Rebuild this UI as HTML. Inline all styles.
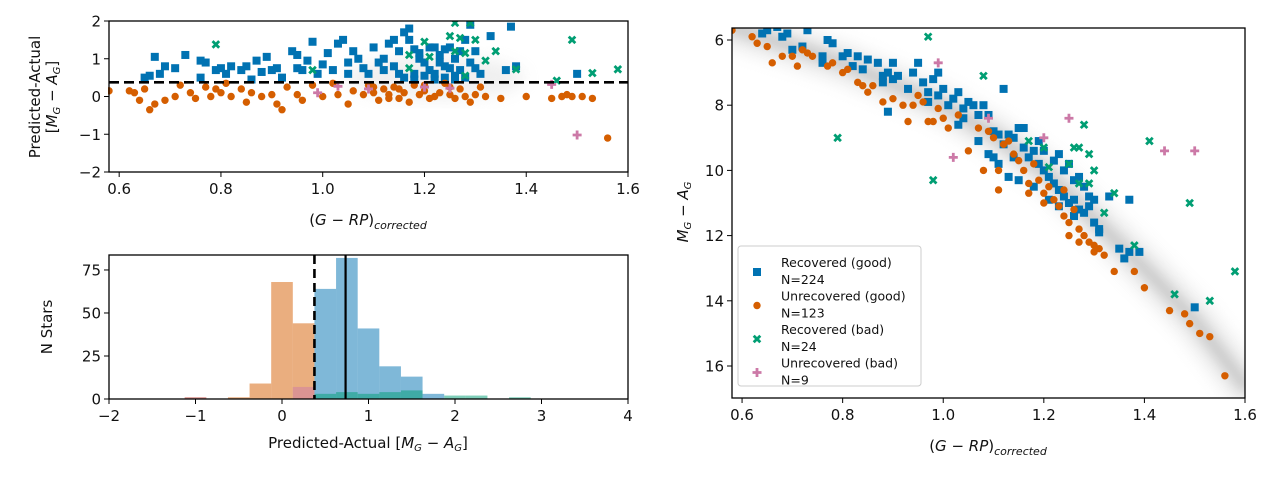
<!DOCTYPE html>
<html><head><meta charset="utf-8">
<style>
html,body{margin:0;padding:0;background:#fff;}
svg{display:block;font-family:"DejaVu Sans","Liberation Sans",sans-serif;}
text{fill:#111;}
</style></head>
<body>
<svg id="fig" width="1280" height="478" viewBox="0 0 1280 478">
<defs>
<filter id="blur1" x="-20%" y="-50%" width="140%" height="200%"><feGaussianBlur stdDeviation="6"/></filter>
<filter id="blur2" x="-20%" y="-20%" width="140%" height="140%"><feGaussianBlur stdDeviation="8"/></filter>
<clipPath id="c1"><rect x="108" y="21" width="520" height="151"/></clipPath>
<clipPath id="c3"><rect x="732" y="28" width="513" height="370"/></clipPath>
</defs>
<g id="p1"></g>
<g id="p2"></g>
<g id="p3"></g>
</svg>
<script>
// ---------- data ----------
const blueRes = [[0.65,0.5],[0.66,0.55],[0.67,1.05],[0.68,0.6],[0.69,0.8],[0.71,0.75],[0.73,1.1],[0.76,0.95],[0.77,0.9],[0.76,0.5],[0.79,0.7],[0.8,0.75],[0.81,0.6],[0.82,0.8],[0.84,0.7],[0.85,0.8],[0.86,0.45],[0.87,0.95],[0.88,0.65],[0.89,1.05],[0.9,0.7],[0.91,0.75],[0.92,0.5],[0.94,1.2],[0.95,1.1],[0.95,0.75],[0.96,0.7],[0.97,0.95],[0.98,1.45],[0.99,0.6],[1.0,0.85],[1.01,1.15],[1.02,0.7],[1.03,1.4],[1.04,1.5],[1.05,0.9],[1.05,0.6],[1.06,1.2],[1.07,1.0],[1.08,0.75],[1.09,0.6],[1.10,1.3],[1.11,0.9],[1.12,0.7],[1.13,1.4],[1.14,1.5],[1.15,1.2],[1.16,1.7],[1.17,1.8],[1.17,1.5],[1.18,1.25],[1.19,1.0],[1.2,0.9],[1.21,0.7],[1.22,1.3],[1.23,1.1],[1.24,0.8],[1.25,1.3],[1.26,1.0],[1.27,0.7],[1.28,1.5],[1.29,1.9],[1.3,1.2],[1.31,0.6],[1.33,1.6],[1.36,0.7],[1.37,1.85],[1.38,0.8],[1.5,0.6],[1.16,0.5],[1.18,0.6],[1.2,0.55],[1.22,0.6],[1.24,0.5],[1.26,0.55],[1.28,0.5],[1.14,0.8],[1.15,0.6],[1.23,0.9],[1.25,0.75],[1.27,1.2],[1.19,1.15],[1.21,1.3],[1.12,1.0],[1.24,1.25],[1.29,0.9],[1.3,0.75],[1.18,0.45],[1.26,0.45],[1.22,0.45]];
const orangeRes = [[0.58,0.15],[0.62,0.15],[0.63,0.1],[0.64,-0.1],[0.65,0.2],[0.66,-0.35],[0.67,-0.2],[0.69,-0.1],[0.71,0.0],[0.72,0.3],[0.74,0.1],[0.75,-0.05],[0.77,0.25],[0.78,0.0],[0.79,0.2],[0.8,0.1],[0.81,0.35],[0.82,0.0],[0.84,0.2],[0.85,-0.15],[0.86,0.1],[0.88,0.0],[0.9,0.05],[0.91,-0.2],[0.92,-0.35],[0.93,0.25],[0.95,0.05],[0.96,-0.1],[0.98,0.3],[1.0,0.0],[1.02,0.35],[1.03,0.05],[1.05,-0.2],[1.06,0.15],[1.08,0.05],[1.09,0.3],[1.1,0.1],[1.11,-0.1],[1.12,0.2],[1.13,0.05],[1.14,0.25],[1.15,-0.05],[1.16,0.1],[1.17,-0.15],[1.18,0.3],[1.19,0.05],[1.2,0.15],[1.21,-0.05],[1.22,0.0],[1.23,0.1],[1.24,0.35],[1.25,0.05],[1.26,-0.05],[1.27,0.2],[1.28,0.0],[1.29,-0.15],[1.3,0.05],[1.31,0.25],[1.32,0.0],[1.35,-0.05],[1.4,0.0],[1.45,-0.05],[1.47,0.0],[1.48,0.05],[1.49,0.0],[1.51,0.0],[1.53,-0.05],[1.56,-1.1],[1.2,0.3],[1.15,0.2],[1.1,0.25],[1.25,0.25],[1.13,-0.05]];
const greenRes = [[0.79,1.38],[0.98,0.7],[1.17,1.1],[1.17,0.75],[1.2,1.45],[1.21,1.05],[1.26,1.95],[1.25,1.6],[1.27,1.55],[1.26,1.2],[1.28,1.15],[1.29,1.95],[1.3,1.5],[1.28,0.55],[1.32,0.95],[1.34,1.2],[1.38,0.72],[1.46,0.42],[1.49,1.5],[1.53,0.62],[1.58,0.72]];
const pinkRes = [[0.99,0.1],[1.03,0.27],[1.09,0.2],[1.2,0.25],[1.25,0.22],[1.45,0.32],[1.5,-1.02]];
const resBand = [[0.58,0],[0.8,0],[1.0,0],[1.2,0],[1.4,0],[1.55,0]];

const histEdges = [-1.125,-0.875,-0.625,-0.375,-0.125,0.125,0.375,0.625,0.875,1.125,1.375,1.625,1.875,2.125,2.375,2.625,2.875];
const histOrange = [1,0,1,9,68,44,0,0,0,0,0,0,0,0,0,0];
const histBlue   = [0,0,0,0,0,0,64,82,41,19,13,3,0,0,0,0];
const histGreen  = [0,0,0,0,0,0,3,4,3,4,5,0,2,2,0,1];
const histPink   = [1,0,0,0,0,7,0,0,0,0,0,0,0,0,0,0];
const cutValue = 0.375;
const medianValue = 0.735;
const histTicksX = [-2,-1,0,1,2,3,4];
const histTicksY = [0,25,50,75];

const blueCmd = [[0.64,5.8],[0.65,5.7],[0.67,5.6],[0.68,5.9],[0.69,5.8],[0.7,6.3],[0.73,5.7],[0.72,6.2],[0.76,6.5],[0.77,6.0],[0.78,6.1],[0.76,6.7],[0.8,6.5],[0.81,6.4],[0.82,6.8],[0.83,6.5],[0.84,6.9],[0.85,6.6],[0.87,6.7],[0.88,7.1],[0.88,7.3],[0.89,7.0],[0.9,6.7],[0.9,7.2],[0.91,7.1],[0.93,7.5],[0.94,7.0],[0.95,6.7],[0.96,7.3],[0.97,7.6],[0.97,7.9],[0.98,7.2],[0.99,7.7],[0.99,7.0],[1.0,7.5],[1.01,8.0],[1.02,7.8],[1.03,7.6],[1.04,8.1],[1.05,7.9],[1.06,8.0],[1.07,8.3],[1.08,8.0],[1.09,8.3],[1.04,8.4],[1.03,8.6],[1.1,8.8],[1.11,8.9],[1.12,9.2],[1.13,8.9],[1.14,9.0],[1.15,8.7],[1.16,8.7],[1.12,7.5],[0.89,8.2],[1.07,9.1],[1.09,9.5],[1.1,9.6],[1.11,9.8],[1.13,10.2],[1.15,10.3],[1.16,9.3],[1.17,9.6],[1.18,9.4],[1.19,9.8],[1.2,10.0],[1.21,10.2],[1.22,10.4],[1.23,10.6],[1.24,10.8],[1.25,11.0],[1.26,10.9],[1.27,11.2],[1.28,11.3],[1.29,11.1],[1.3,11.6],[1.31,11.8],[1.2,9.4],[1.22,9.7],[1.24,10.0],[1.26,10.3],[1.28,10.5],[1.23,9.5],[1.25,9.8],[1.27,10.2],[1.29,10.8],[1.21,10.9],[1.23,11.1],[1.31,11.9],[1.33,10.8],[1.35,12.4],[1.36,12.7],[1.37,12.5],[1.37,10.9],[1.39,12.5],[1.5,14.2],[1.19,9.1],[1.18,10.5],[1.14,9.6],[1.26,11.4],[1.3,10.9]];
const orangeCmd = [[0.58,5.7],[0.62,5.9],[0.63,6.1],[0.65,6.2],[0.66,6.7],[0.68,6.5],[0.7,6.5],[0.71,6.8],[0.72,6.3],[0.73,6.4],[0.74,6.5],[0.77,6.8],[0.78,6.7],[0.8,7.0],[0.81,6.9],[0.83,7.3],[0.84,7.4],[0.85,7.6],[0.86,7.4],[0.88,7.9],[0.9,7.8],[0.92,8.0],[0.93,8.5],[0.94,8.0],[0.95,7.7],[0.96,7.9],[0.98,8.5],[0.99,8.1],[1.0,8.4],[1.01,8.7],[1.03,8.3],[1.05,9.4],[1.07,8.7],[1.09,8.8],[1.1,9.0],[1.12,9.2],[1.13,9.1],[1.14,9.5],[1.15,9.7],[1.16,10.0],[1.17,10.4],[1.18,9.8],[1.19,10.3],[1.2,10.7],[1.21,10.5],[1.22,10.9],[1.23,11.1],[1.24,11.4],[1.25,11.6],[1.26,11.2],[1.27,11.8],[1.28,12.0],[1.29,12.2],[1.3,12.3],[1.31,12.4],[1.32,12.6],[1.34,13.1],[1.38,13.1],[1.4,13.6],[1.45,14.3],[1.48,14.4],[1.49,14.7],[1.51,15.0],[1.53,15.1],[1.56,16.3],[1.11,10.6],[1.11,10.0],[1.17,10.7],[1.2,11.0],[1.25,12.0],[1.08,10.0],[0.97,8.5],[1.27,12.2],[1.3,12.5],[1.24,10.6]];
const greenCmd = [[0.97,5.9],[1.08,7.1],[0.79,9.0],[0.98,10.3],[1.17,9.1],[1.2,9.3],[1.21,9.9],[1.25,9.8],[1.26,9.3],[1.27,9.3],[1.28,8.6],[1.27,10.4],[1.29,10.4],[1.29,9.5],[1.3,10.0],[1.32,11.3],[1.34,10.7],[1.38,12.3],[1.41,9.1],[1.46,13.8],[1.49,11.0],[1.53,14.0],[1.58,13.1]];
const pinkCmd = [[0.99,6.7],[1.09,8.4],[1.02,9.6],[1.2,9.0],[1.25,8.4],[1.44,9.4],[1.5,9.4]];
const cmdBand = [[0.58,5.6],[0.8,6.7],[1.0,8.0],[1.1,8.9],[1.2,10.0],[1.3,11.5],[1.4,13.0],[1.5,14.6],[1.6,16.6]];

const colTicks = [0.6,0.8,1.0,1.2,1.4,1.6];
const resTicksY = [-2,-1,0,1,2];
const cmdTicksY = [6,8,10,12,14,16];

// ---------- helpers ----------
const NS="http://www.w3.org/2000/svg";
const BLUE="#0072B2",ORANGE="#D55E00",GREEN="#009E73",PINK="#CC79A7";
function el(tag,attrs,parent){const e=document.createElementNS(NS,tag);for(const k in attrs)e.setAttribute(k,attrs[k]);parent.appendChild(e);return e;}
function lin(d0,d1,r0,r1){return v=>r0+(v-d0)*(r1-r0)/(d1-d0);}
function marker(g,kind,px,py,color){
  let m;
  if(kind==='s'){m=el('rect',{x:px-4,y:py-4,width:8,height:8,fill:color},g);}
  else if(kind==='o'){m=el('circle',{cx:px,cy:py,r:3.7,fill:color},g);}
  else if(kind==='x'){m=el('path',{d:`M${px-3.3},${py-3.3}L${px+3.3},${py+3.3}M${px-3.3},${py+3.3}L${px+3.3},${py-3.3}`,stroke:color,'stroke-width':2.8,fill:'none'},g);}
  else {m=el('path',{d:`M${px-4.5},${py}L${px+4.5},${py}M${px},${py-4.5}L${px},${py+4.5}`,stroke:color,'stroke-width':2.8,fill:'none'},g);}
  return m;
}
function scatter(g,data,kind,color,sx,sy,name){
  const grp=el('g',{},g);
  
  
  data.forEach(p=>{const m=marker(grp,kind,sx(p[0]),sy(p[1]),color);
    
    });
}
function frame(g,x0,y0,x1,y1){const r=el('rect',{x:x0,y:y0,width:x1-x0,height:y1-y0,fill:'none',stroke:'#000','stroke-width':1.3},g);
  
  }
function xticks(g,ticks,sx,yb,fmt){ticks.forEach(t=>{const x=sx(t);el('line',{x1:x,x2:x,y1:yb,y2:yb+5,stroke:'#000','stroke-width':1},g);
  const tx=el('text',{x:x,y:yb+22,'text-anchor':'middle','font-size':15},g);tx.textContent=fmt(t);
  
  });}
function yticks(g,ticks,sy,xl,fmt){ticks.forEach(t=>{const y=sy(t);el('line',{x1:xl-5,x2:xl,y1:y,y2:y,stroke:'#000','stroke-width':1},g);
  const tx=el('text',{x:xl-8,y:y+5.5,'text-anchor':'end','font-size':15},g);tx.textContent=fmt(t);
  
  });}
const minus=s=>String(s).replace('-','\u2212');

// ---------- panel 1: residuals ----------
(function(){
  const g=document.getElementById('p1');
  const sx=lin(0.58,1.6,109,628), sy=lin(-2,2,172,21);
  const cg=el('g',{'clip-path':'url(#c1)'},g);
  const band=el('polyline',{points:resBand.map(p=>sx(p[0])+','+sy(p[1])).join(' '),stroke:'#aaa','stroke-width':12,fill:'none',opacity:0.45,filter:'url(#blur1)'},cg);
  
  
  const band2=el('ellipse',{cx:sx(1.22),cy:sy(0.5),rx:90,ry:22,fill:'#ccc',opacity:0.3,filter:'url(#blur2)'},cg);
  
  
  scatter(cg,blueRes,'s',BLUE,sx,sy,'recovered-good');
  scatter(cg,orangeRes,'o',ORANGE,sx,sy,'unrecovered-good');
  scatter(cg,greenRes,'x',GREEN,sx,sy,'recovered-bad');
  scatter(cg,pinkRes,'p',PINK,sx,sy,'unrecovered-bad');
  const dl=el('line',{x1:109,x2:628,y1:sy(cutValue),y2:sy(cutValue),stroke:'#000','stroke-width':2.6,'stroke-dasharray':'10,5'},g);
  
  
  frame(g,109,21,628,172);
  xticks(g,colTicks,sx,172,t=>t.toFixed(1));
  yticks(g,resTicksY,sy,109,minus);
  const xl=el('text',{x:368,y:225,'text-anchor':'middle','font-size':15},g);
  xl.innerHTML='(<tspan font-style="italic">G</tspan> − <tspan font-style="italic">RP</tspan>)<tspan font-style="italic" font-size="11" dy="4">corrected</tspan>';
  
  
  const yl=el('text',{transform:'translate(40,97) rotate(-90)','text-anchor':'middle','font-size':15},g);
  yl.innerHTML='<tspan x="0" dy="0">Predicted-Actual</tspan><tspan x="0" dy="17">[<tspan font-style="italic">M</tspan><tspan font-size="10" dy="3" font-style="italic">G</tspan><tspan dy="-3"> − </tspan><tspan font-style="italic">A</tspan><tspan font-size="10" dy="3" font-style="italic">G</tspan><tspan dy="-3">]</tspan></tspan>';
  
  
})();

// ---------- panel 2: histogram ----------
(function(){
  const g=document.getElementById('p2');
  const sx=lin(-2,4,109,628), sy=lin(0,83.7,399,255);
  function bars(arr,color,name){
    const grp=el('g',{},g);
    
    
    arr.forEach((v,i)=>{if(!v)return;const x0=sx(histEdges[i]),x1=sx(histEdges[i+1]);
      const r=el('rect',{x:x0,y:sy(v),width:x1-x0,height:sy(0)-sy(v),fill:color,'fill-opacity':0.5},grp);
      
      });
  }
  bars(histOrange,ORANGE,'hist-unrecovered-good');
  bars(histBlue,BLUE,'hist-recovered-good');
  bars(histGreen,GREEN,'hist-recovered-bad');
  bars(histPink,PINK,'hist-unrecovered-bad');
  const d=el('line',{x1:sx(cutValue),x2:sx(cutValue),y1:255,y2:399,stroke:'#000','stroke-width':2.6,'stroke-dasharray':'9,5'},g);
  
  
  const s=el('line',{x1:sx(medianValue),x2:sx(medianValue),y1:255,y2:399,stroke:'#000','stroke-width':2.2},g);
  
  
  frame(g,109,255,628,399);
  xticks(g,histTicksX,sx,399,minus);
  yticks(g,histTicksY,sy,109,String);
  const xl=el('text',{x:368,y:448,'text-anchor':'middle','font-size':15},g);
  xl.innerHTML='Predicted-Actual [<tspan font-style="italic">M</tspan><tspan font-size="10" dy="3" font-style="italic">G</tspan><tspan dy="-3"> − </tspan><tspan font-style="italic">A</tspan><tspan font-size="10" dy="3" font-style="italic">G</tspan><tspan dy="-3">]</tspan>';
  
  
  const yl=el('text',{transform:'translate(52,327) rotate(-90)','text-anchor':'middle','font-size':15},g);
  yl.textContent='N Stars';
  
  
})();

// ---------- panel 3: CMD ----------
(function(){
  const g=document.getElementById('p3');
  const sx=lin(0.58,1.6,732,1245), sy=lin(6,16,40,366);
  const cg=el('g',{'clip-path':'url(#c3)'},g);
  const pts=cmdBand.map(p=>sx(p[0])+','+sy(p[1])).join(' ');
  const band0=el('polyline',{points:pts,stroke:'#d8d8d8','stroke-width':40,fill:'none',opacity:0.45,'stroke-linecap':'round',filter:'url(#blur2)'},cg);
  
  
  const band=el('polyline',{points:pts,stroke:'#a8a8a8','stroke-width':14,fill:'none',opacity:0.5,'stroke-linecap':'round',filter:'url(#blur1)'},cg);
  
  
  scatter(cg,blueCmd,'s',BLUE,sx,sy,'recovered-good');
  scatter(cg,orangeCmd,'o',ORANGE,sx,sy,'unrecovered-good');
  scatter(cg,greenCmd,'x',GREEN,sx,sy,'recovered-bad');
  scatter(cg,pinkCmd,'p',PINK,sx,sy,'unrecovered-bad');
  frame(g,732,28,1245,398);
  xticks(g,colTicks,sx,398,t=>t.toFixed(1));
  yticks(g,cmdTicksY,sy,732,String);
  const xl=el('text',{x:988,y:451,'text-anchor':'middle','font-size':15},g);
  xl.innerHTML='(<tspan font-style="italic">G</tspan> − <tspan font-style="italic">RP</tspan>)<tspan font-style="italic" font-size="11" dy="4">corrected</tspan>';
  
  
  const yl=el('text',{transform:'translate(688,212) rotate(-90)','text-anchor':'middle','font-size':15},g);
  yl.innerHTML='<tspan font-style="italic">M</tspan><tspan font-size="10" dy="3" font-style="italic">G</tspan><tspan dy="-3"> − </tspan><tspan font-style="italic">A</tspan><tspan font-size="10" dy="3" font-style="italic">G</tspan>';
  
  
  // legend
  const lg=el('g',{},g);
  
  
  el('rect',{x:738,y:246,width:183,height:140,rx:3,fill:'#fff','fill-opacity':0.85,stroke:'#ccc','stroke-width':1},lg);
  const entries=[['s',BLUE,'Recovered (good)','N=224'],['o',ORANGE,'Unrecovered (good)','N=123'],['x',GREEN,'Recovered (bad)','N=24'],['p',PINK,'Unrecovered (bad)','N=9']];
  entries.forEach((e,i)=>{const y=266+i*33.5;
    const eg=el('g',{},lg);
    
    
    marker(eg,e[0],757,y+6,e[1]);
    const t1=el('text',{x:781,y:y+1,'font-size':12.5},eg);t1.textContent=e[2];
    const t2=el('text',{x:781,y:y+18,'font-size':12.5},eg);t2.textContent=e[3];
  });
})();
</script>
</body></html>
